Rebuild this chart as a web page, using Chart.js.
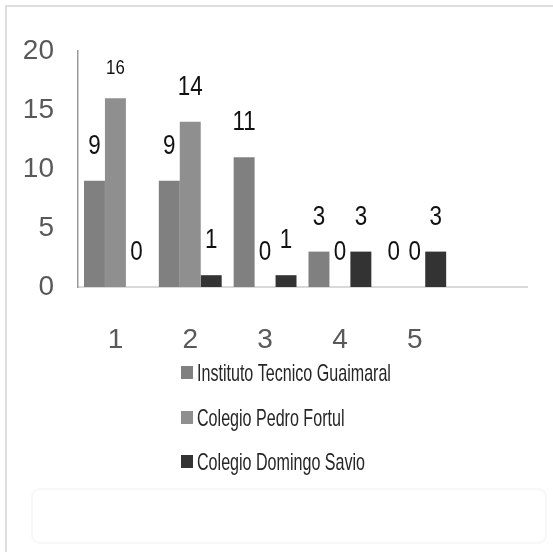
<!DOCTYPE html>
<html>
<head>
<meta charset="utf-8">
<script src="https://cdn.jsdelivr.net/npm/chart.js@4.4.1/dist/chart.umd.min.js"></script>
<style>
  html, body { margin: 0; padding: 0; background: #ffffff; }
  #wrap { position: relative; width: 553px; height: 552px; }
</style>
</head>
<body>
<div id="wrap"><canvas id="c" width="553" height="552"></canvas></div>
<script>
// ---- data ----
const categories = ['1', '2', '3', '4', '5', ''];
const seriesNames = ['Instituto Tecnico Guaimaral', 'Colegio Pedro Fortul', 'Colegio Domingo Savio'];
const institutoValues = [9, 9, 11, 3, 0];
const pedroValues = [16, 14, 0, 0, 0];
const domingoValues = [0, 1, 1, 3, 3];
const yTicks = [0, 5, 10, 15, 20];

const FONT = "'Liberation Sans', Arial, sans-serif";
const colors = ['#808080', '#8f8f8f', '#333333'];

const framePlugin = {
  id: 'frame',
  beforeDraw(chart) {
    const ctx = chart.ctx;
    ctx.save();
    ctx.fillStyle = '#ffffff';
    ctx.fillRect(0, 0, chart.width, chart.height);
    ctx.strokeStyle = '#dedede';
    ctx.lineWidth = 2;
    ctx.beginPath();
    ctx.moveTo(6, chart.height);
    ctx.lineTo(6, 6);
    ctx.lineTo(chart.width, 6);
    ctx.stroke();
    // faint rounded box at the bottom
    ctx.strokeStyle = '#f7f7f7';
    ctx.lineWidth = 2;
    ctx.beginPath();
    if (ctx.roundRect) ctx.roundRect(32, 489, 514, 54, 8); else ctx.rect(32, 489, 514, 54);
    ctx.stroke();
    ctx.restore();
  }
};

// condensed text helper (the reference text is horizontally squeezed)
function squeezedText(ctx, text, x, y, sx) {
  ctx.save();
  ctx.translate(x, y);
  ctx.scale(sx, 1);
  ctx.fillText(text, 0, 0);
  ctx.restore();
}

const valueLabelPlugin = {
  id: 'valueLabels',
  afterDatasetsDraw(chart, args, opts) {
    const ctx = chart.ctx;
    ctx.save();
    ctx.fillStyle = '#111111';
    ctx.textAlign = 'center';
    ctx.textBaseline = 'alphabetic';
    chart.data.datasets.forEach((ds, di) => {
      const meta = chart.getDatasetMeta(di);
      meta.data.forEach((el, i) => {
        const v = ds.data[i];
        if (v === undefined || v === null) return;
        const small = opts.small.some(s => s[0] === di && s[1] === i);
        ctx.font = (small ? '21px ' : '28px ') + FONT;
        squeezedText(ctx, String(v), el.x, el.y - (small ? 24 : 27), 0.8);
      });
    });
    ctx.restore();
  }
};

const legendPlugin = {
  id: 'customLegend',
  afterDraw(chart, args, opts) {
    const ctx = chart.ctx;
    ctx.save();
    chart.data.datasets.forEach((ds, di) => {
      const cy = opts.rows[di];
      ctx.fillStyle = ds.backgroundColor;
      ctx.fillRect(opts.x, cy - 7, 12, 13);
      ctx.fillStyle = '#262626';
      ctx.font = '24px ' + FONT;
      ctx.textBaseline = 'middle';
      ctx.textAlign = 'left';
      squeezedText(ctx, ds.label, opts.x + 16, cy + 1, 0.67);
    });
    ctx.restore();
  }
};

const chart = new Chart(document.getElementById('c'), {
  type: 'bar',
  data: {
    labels: categories,
    datasets: [
      { label: seriesNames[0], data: institutoValues, backgroundColor: colors[0] },
      { label: seriesNames[1], data: pedroValues, backgroundColor: colors[1] },
      { label: seriesNames[2], data: domingoValues, backgroundColor: colors[2] }
    ]
  },
  options: {
    responsive: false,
    animation: false,
    devicePixelRatio: 1,
    layout: { padding: { left: 0, right: 26, top: 51, bottom: 0 } },
    datasets: { bar: { categoryPercentage: 0.84, barPercentage: 1.0 } },
    plugins: {
      legend: { display: false },
      tooltip: { enabled: false },
      valueLabels: { small: [[1, 0]] },
      customLegend: { x: 181, rows: [373, 418, 462] }
    },
    scales: {
      x: {
        grid: { display: false, drawTicks: false },
        border: { display: true, color: '#d9d9d9', width: 2 },
        ticks: { color: '#595959', font: { family: FONT, size: 28 }, padding: 36, maxRotation: 0 },
        afterFit(s) { s.height = 265; }
      },
      y: {
        min: 0, max: 20,
        grid: { display: false, drawTicks: false },
        border: { display: true, color: '#9a9a9a', width: 1.5 },
        afterBuildTicks(s) { s.ticks = yTicks.map(v => ({ value: v })); },
        ticks: { color: '#595959', font: { family: FONT, size: 28 }, padding: 24 },
        afterFit(s) { s.width = 78; }
      }
    }
  },
  plugins: [framePlugin, valueLabelPlugin, legendPlugin]
});
</script>
</body>
</html>
